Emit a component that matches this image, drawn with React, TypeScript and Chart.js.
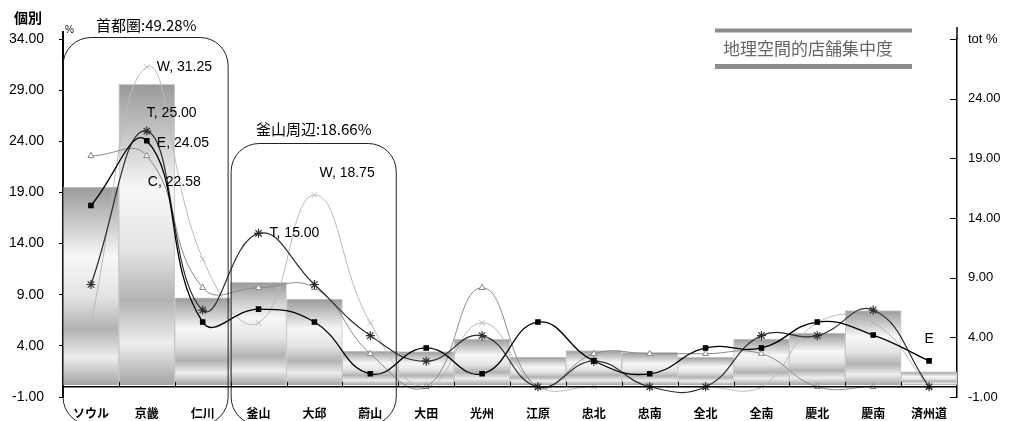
import React, { useEffect, useRef } from "react";
import { Chart, registerables } from "chart.js";

Chart.register(...registerables);

const categories = ["ソウル", "京畿", "仁川", "釜山", "大邱", "蔚山", "大田", "光州", "江原", "忠北", "忠南", "全北", "全南", "慶北", "慶南", "済州道"];
const totPct = [16.6, 25.2, 7.3, 8.6, 7.2, 2.85, 2.8, 3.85, 2.35, 2.9, 2.75, 2.35, 3.85, 4.35, 6.25, 1.1];
const wPct = [6.25, 31.25, 12.5, 6.25, 18.75, 6.25, 0, 6.25, 0, 0, 0, 0, 0, 6.25, 6.25, 0];
const tPct = [10, 25, 7.5, 15, 10, 5, 2.5, 5, 0, 2.5, 0, 0, 5, 5, 7.5, 0];
const ePct = [17.72, 24.05, 6.33, 7.59, 6.33, 1.27, 3.8, 1.27, 6.33, 2.53, 1.27, 3.8, 3.8, 6.33, 5.06, 2.53];
const cPct = [22.58, 22.58, 9.68, 9.68, 9.68, 3.23, 0, 9.68, 0, 3.23, 3.23, 3.23, 3.23, 0, 0, 0];
const leftTicks = [-1, 4, 9, 14, 19, 24, 29, 34];
const rightTicks = [-1, 4, 9, 14, 19, 24, 29];
const regionLabels = ["首都圏:49.28%", "釜山周辺:18.66%"];
const chartTitle = "地理空間的店舗集中度";
const leftUnit = "個別";
const rightUnit = "tot %";

const SANS = "'Liberation Sans', Arial, sans-serif";
const CJK = "'Noto Sans CJK JP', 'Noto Sans CJK SC', sans-serif";

const barFill = (c: any) => {
  const chart = c.chart;
  if (c.type !== "data" || !chart.chartArea || !chart.scales.y2) return "#c4c4c4";
  const s = chart.scales.y2;
  const top = s.getPixelForValue(c.raw);
  const base = s.getPixelForValue(0);
  if (!isFinite(top) || !isFinite(base) || base - top < 1) return "#c4c4c4";
  const g = chart.ctx.createLinearGradient(0, top, 0, base);
  g.addColorStop(0, "#9a9a9a");
  g.addColorStop(0.35, "#f7f7f7");
  g.addColorStop(0.55, "#e4e4e4");
  g.addColorStop(0.72, "#b2b2b2");
  g.addColorStop(0.86, "#eeeeee");
  g.addColorStop(1, "#a4a4a4");
  return g;
};

const overlay = {
  id: "overlay",
  afterDatasetsDraw(chart: any) {
    const ctx = chart.ctx;
    const { x, y } = chart.scales;
    const ca = chart.chartArea;
    const y0 = y.getPixelForValue(0);
    ctx.save();
    ctx.strokeStyle = "#000";
    ctx.lineWidth = 1.5;
    ctx.beginPath();
    ctx.moveTo(ca.left, y0);
    ctx.lineTo(ca.right, y0);
    ctx.stroke();
    ctx.lineWidth = 1;
    for (let i = 1; i < categories.length; i++) {
      const bx = Math.round((x.getPixelForValue(i - 1) + x.getPixelForValue(i)) / 2) + 0.5;
      ctx.beginPath();
      ctx.moveTo(bx, y0);
      ctx.lineTo(bx, y0 - 5);
      ctx.stroke();
    }
    ctx.restore();
  },
  afterDraw(chart: any) {
    const ctx = chart.ctx;
    const { x, y, y2 } = chart.scales;
    const ca = chart.chartArea;
    const px = (i: number) => x.getPixelForValue(i);
    const py = (v: number) => y.getPixelForValue(v);
    const bnd = (i: number) => (px(i - 1) + px(i)) / 2;
    ctx.save();
    // right axis inward ticks and extension
    ctx.strokeStyle = "#000";
    ctx.lineWidth = 1;
    rightTicks.forEach((v) => {
      const p = Math.round(y2.getPixelForValue(v)) + 0.5;
      ctx.beginPath();
      ctx.moveTo(ca.right - 7, p);
      ctx.lineTo(ca.right, p);
      ctx.stroke();
    });
    ctx.lineWidth = 1.5;
    ctx.beginPath();
    ctx.moveTo(ca.right, ca.top);
    ctx.lineTo(ca.right, 27);
    ctx.stroke();
    ctx.lineWidth = 2;
    ctx.beginPath();
    ctx.moveTo(ca.left, ca.top);
    ctx.lineTo(ca.left, 31);
    ctx.stroke();

    // rounded region boxes
    const rr = (l: number, t: number, r: number, b: number, rad: number) => {
      ctx.beginPath();
      ctx.moveTo(l, b - rad);
      ctx.lineTo(l, t + rad);
      ctx.arcTo(l, t, l + rad, t, rad);
      ctx.lineTo(r - rad, t);
      ctx.arcTo(r, t, r, t + rad, rad);
      ctx.lineTo(r, b - rad);
      ctx.arcTo(r, b, r - rad, b, rad);
      ctx.lineTo(l + rad, b);
      ctx.arcTo(l, b, l, b - rad, rad);
      ctx.stroke();
    };
    ctx.strokeStyle = "#222";
    ctx.lineWidth = 1;
    const b1l = ca.left, b1r = bnd(3) - 2.5;
    const b2l = bnd(3) + 0.5, b2r = bnd(6) - 2;
    rr(b1l, 37.5, b1r, 425, 28);
    rr(b2l, 143.5, b2r, 425, 28);

    // texts
    ctx.fillStyle = "#000";
    ctx.textBaseline = "middle";
    ctx.textAlign = "left";
    ctx.font = `bold 14px ${CJK}`;
    ctx.fillText(leftUnit, 14, 18);
    ctx.font = `10px ${SANS}`;
    ctx.fillText("%", 65, 30);
    ctx.font = `15px ${CJK}`;
    ctx.fillText(regionLabels[0], 96, 25);
    ctx.fillText(regionLabels[1], 256, 129);

    ctx.font = `14px ${SANS}`;
    ctx.fillText(`W, ${wPct[1].toFixed(2)}`, px(1) + 10, py(wPct[1]));
    ctx.fillText(`T, ${tPct[1].toFixed(2)}`, px(1), py(tPct[1]) - 18);
    ctx.fillText(`E, ${ePct[1].toFixed(2)}`, px(1) + 10, py(ePct[1]) + 2);
    ctx.fillText(`C, ${cPct[1].toFixed(2)}`, px(1) + 1, py(cPct[1]) + 26);
    ctx.fillText(`W, ${wPct[4].toFixed(2)}`, px(4) + 5, py(wPct[4]) - 22);
    ctx.fillText(`T, ${tPct[3].toFixed(2)}`, px(3) + 11, py(tPct[3]));
    ctx.textAlign = "center";
    ctx.fillText("E", px(15), py(ePct[15]) - 22);

    // title block
    ctx.fillStyle = "#8c8c8c";
    ctx.fillRect(715, 28.5, 197, 4);
    ctx.fillRect(715, 64, 197, 5);
    ctx.fillStyle = "#666";
    ctx.textAlign = "left";
    ctx.font = `17px ${CJK}`;
    ctx.fillText(chartTitle, 723, 49);
    ctx.restore();
  },
};

export default function App() {
  const ref = useRef<HTMLCanvasElement>(null);
  useEffect(() => {
    const lineBase = { type: "line" as const, yAxisID: "y", fill: false, tension: 0.45 };
    const chart = new Chart(ref.current as HTMLCanvasElement, {
      type: "bar",
      data: {
        labels: categories,
        datasets: [
          { ...lineBase, label: "E", data: ePct, borderColor: "#000", borderWidth: 1.3, pointStyle: "rect", pointRadius: 3, pointBackgroundColor: "#000", pointBorderColor: "#000", order: 1 } as any,
          { ...lineBase, label: "T", data: tPct, borderColor: "#2e2e2e", borderWidth: 1.2, pointStyle: "star", pointRadius: 4.5, pointBorderColor: "#2e2e2e", pointBackgroundColor: "#2e2e2e", order: 2 } as any,
          { ...lineBase, label: "C", data: cPct, borderColor: "#8a8a8a", borderWidth: 1, pointStyle: "triangle", pointRadius: 3.5, pointBorderColor: "#8a8a8a", pointBackgroundColor: "#fff", order: 3 } as any,
          { ...lineBase, label: "W", data: wPct, borderColor: "#bababa", borderWidth: 1, pointStyle: "crossRot", pointRadius: 4, pointBorderColor: "#bababa", pointBackgroundColor: "#bababa", order: 4 } as any,
          { type: "bar", label: "tot %", data: totPct, yAxisID: "y2", backgroundColor: barFill, borderColor: "#c8c8c8", borderWidth: 1, borderSkipped: "bottom", barPercentage: 1, categoryPercentage: 1, order: 10 } as any,
        ],
      },
      options: {
        responsive: false,
        animation: false,
        devicePixelRatio: 1,
        layout: { padding: { top: 39, left: 0, right: 0, bottom: 0 } },
        plugins: { legend: { display: false }, tooltip: { enabled: false } },
        scales: {
          x: {
            type: "category",
            offset: true,
            grid: { display: false },
            border: { display: false },
            ticks: { color: "#000", font: { family: CJK, size: 12, weight: "bold" }, padding: 1, maxRotation: 0, autoSkip: false },
            afterFit: (s: any) => { s.height = 24; },
          },
          y: {
            position: "left",
            min: -1,
            max: 34,
            afterBuildTicks: (s: any) => { s.ticks = leftTicks.map((v) => ({ value: v })); },
            ticks: { color: "#000", font: { family: SANS, size: 14 }, padding: 15, callback: (v: any) => Number(v).toFixed(2) },
            grid: { drawOnChartArea: false, tickLength: 4, color: "#000" },
            border: { display: true, color: "#000", width: 2 },
            afterFit: (s: any) => { s.width = 63; },
          },
          y2: {
            position: "right",
            min: -1,
            max: 29,
            afterBuildTicks: (s: any) => { s.ticks = rightTicks.map((v) => ({ value: v })); },
            ticks: { color: "#000", font: { family: SANS, size: 13 }, padding: 11, callback: (v: any) => (Number(v) === 29 ? rightUnit : Number(v).toFixed(2)) },
            grid: { drawOnChartArea: false, drawTicks: false },
            border: { display: true, color: "#000", width: 1.5 },
            afterFit: (s: any) => { s.width = 54; },
          },
        },
      } as any,
      plugins: [overlay],
    });
    return () => chart.destroy();
  }, []);
  return (
    <div style={{ position: "fixed", left: 0, top: 0, width: 1011, height: 421, background: "#fff" }}>
      <canvas ref={ref} width={1011} height={421} style={{ display: "block", width: 1011, height: 421 }} />
    </div>
  );
}
